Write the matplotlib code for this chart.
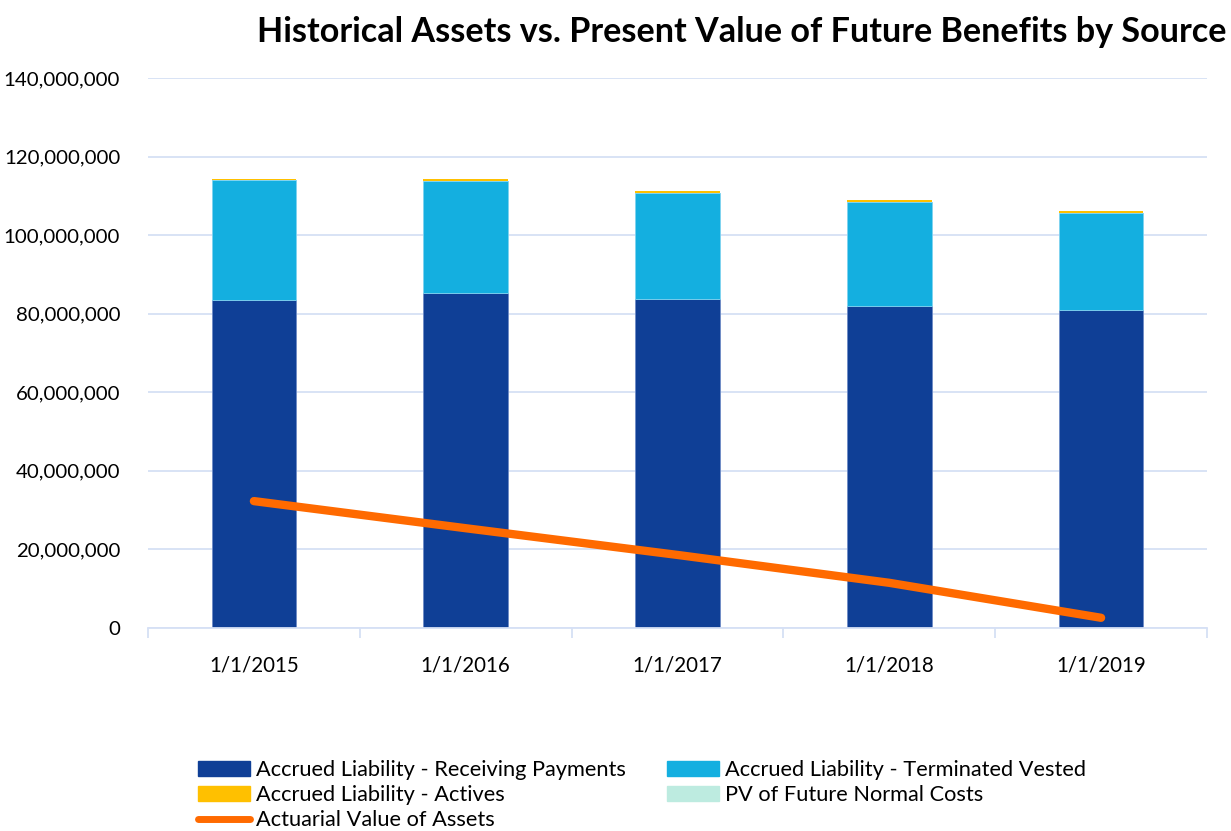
import matplotlib
matplotlib.use("Agg")
import matplotlib.pyplot as plt
import numpy as np
from matplotlib.ticker import FuncFormatter, FixedLocator
from matplotlib.patches import Patch
from matplotlib.lines import Line2D

categories = ["1/1/2015", "1/1/2016", "1/1/2017", "1/1/2018", "1/1/2019"]
receiving = [83.5e6, 85.3e6, 83.8e6, 81.9e6, 80.9e6]
terminated = [30.5e6, 28.5e6, 26.9e6, 26.5e6, 24.8e6]
actives = [0.4e6, 0.4e6, 0.5e6, 0.5e6, 0.5e6]
pv_normal = [0.01e6, 0.01e6, 0.01e6, 0.01e6, 0.01e6]
assets = [32.3e6, 25.4e6, 18.6e6, 11.5e6, 2.6e6]

C_REC = "#0F3F96"
C_TERM = "#14AFE0"
C_ACT = "#FFC000"
C_PV = "#BDEBE0"
C_LINE = "#FF6A00"
GRID = "#D6E0F5"

plt.rcParams['font.family'] = ['Lato', 'DejaVu Sans']

fig = plt.figure(figsize=(12.31, 8.31), dpi=100)
ax = fig.add_axes([148/1231, 1-628/831, (1207-148)/1231, (628-78)/831])

x = np.arange(len(categories))
w = 0.4
rec = np.array(receiving); ter = np.array(terminated); act = np.array(actives); pv = np.array(pv_normal)
ax.bar(x, rec, w, color=C_REC, edgecolor="#6F8CC6", linewidth=0.6, zorder=2)
ax.bar(x, ter, w, bottom=rec, color=C_TERM, edgecolor="#7FD3F0", linewidth=0.6, zorder=2)
ax.bar(x, act, w, bottom=rec+ter, color=C_ACT, linewidth=0, zorder=2)
ax.bar(x, pv, w, bottom=rec+ter+act, color=C_PV, linewidth=0, zorder=2)
ax.plot(x, assets, color=C_LINE, linewidth=6, solid_capstyle='round', zorder=3)

ax.set_xlim(-0.5, len(categories)-0.5)
ax.set_ylim(0, 140e6)
ax.set_yticks(np.arange(0, 140e6+1, 20e6))
ax.yaxis.set_major_formatter(FuncFormatter(lambda v, p: f"{int(v):,}"))
ax.yaxis.grid(True, color=GRID, linewidth=1.3, zorder=0)
ax.set_axisbelow(True)
for s in ['left', 'right', 'top']:
    ax.spines[s].set_visible(False)
ax.spines['bottom'].set_color(GRID)
ax.spines['bottom'].set_linewidth(1.3)
ax.tick_params(axis='y', length=0, labelsize=14.7, pad=20, colors='black')
ax.set_xticks(x)
ax.set_xticklabels(categories)
ax.tick_params(axis='x', which='major', length=0, labelsize=14.8, pad=20)
ax.xaxis.set_minor_locator(FixedLocator(np.arange(-0.5, len(categories), 1.0)))
ax.tick_params(axis='x', which='minor', length=7, color=GRID, width=1.3)

fig.text(742/1231, 1-32/831, "Historical Assets vs. Present Value of Future Benefits by Source",
         ha='center', va='center', fontsize=24.6, fontweight='bold')

handles = [Patch(color=C_REC), Patch(color=C_ACT), Line2D([0], [0], color=C_LINE, lw=5, solid_capstyle='round'),
           Patch(color=C_TERM), Patch(color=C_PV)]
labels = ["Accrued Liability - Receiving Payments", "Accrued Liability - Actives", "Actuarial Value of Assets",
          "Accrued Liability - Terminated Vested", "PV of Future Normal Costs"]
fig.legend(handles, labels, ncol=2, loc='upper left', bbox_to_anchor=(198/1231, 1-760/831),
           frameon=False, fontsize=15.7, handlelength=2.4, handleheight=0.7, handletextpad=0.25,
           labelspacing=0.24, columnspacing=1.9, borderpad=0, borderaxespad=0)

fig.savefig("out.png", dpi=100)
